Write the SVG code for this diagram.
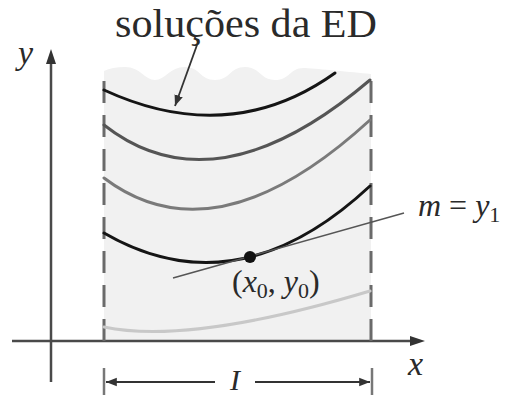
<svg xmlns="http://www.w3.org/2000/svg" width="514" height="398" viewBox="0 0 514 398">
<style>
text{font-family:"Liberation Serif","Times New Roman",serif;fill:#2a2a2a}
.it{font-style:italic}
.crv{fill:none;stroke-width:3;stroke-linecap:round}
.dash{stroke:#6a6a6a;stroke-width:3;stroke-dasharray:22 12;fill:none}
.ax{stroke:#4a4a4a;stroke-width:2.5;fill:none}
.thin{stroke:#333;stroke-width:1.8;fill:none}
</style>
<defs>
<marker id="ah" viewBox="0 0 10 10" refX="10" refY="5" markerWidth="6" markerHeight="6" markerUnits="strokeWidth" orient="auto">
<path d="M0,1 L10,5 L0,9 Z" fill="#333"/>
</marker>
</defs>
<rect width="514" height="398" fill="#fff"/>
<g id="region">
<path d="M104,71 Q112,67 125,67 C140,67 145,80 155,80 S170,67 185,67 S200,80 215,80 S230,67 245,67 S260,80 275,80 S290,67 305,68 S350,72 371,74 L371,341 L104,341 Z" fill="#f1f1f1"/>
</g>
<g id="axes">
<line class="ax" x1="12" y1="341" x2="412" y2="341"/>
<path d="M425,341 L410,336 L410,346 Z" fill="#333"/>
<line class="ax" x1="51" y1="382" x2="51" y2="62"/>
<path d="M51,49 L46,64 L56,64 Z" fill="#333"/>
</g>
<g id="bounds">
<line class="dash" x1="104" y1="341" x2="104" y2="73"/>
<line class="dash" x1="371" y1="341" x2="371" y2="73"/>
</g>
<g id="solutions">
<path class="crv" stroke="#151515" d="M104,90 Q230,148 335,73"/>
<path class="crv" stroke="#555" d="M104,125 Q215,212 370,80"/>
<path class="crv" stroke="#7a7a7a" d="M104,178 Q215,262 370,120"/>
<path class="crv" stroke="#151515" d="M104,233 Q237,310 370,186"/>
<path class="crv" stroke="#c8c8c8" d="M104,327 Q190,345 370,291"/>
</g>
<g id="connectors">
<line class="thin" x1="197" y1="45" x2="175" y2="106" marker-end="url(#ah)"/>
<line stroke="#555" stroke-width="1.5" x1="173" y1="278" x2="404" y2="213"/>
</g>
<g id="point">
<circle cx="250" cy="257" r="6" fill="#111"/>
</g>
<g id="interval">
<line stroke="#777" stroke-width="2.5" x1="104" y1="368" x2="104" y2="395"/>
<line stroke="#777" stroke-width="2.5" x1="372" y1="368" x2="372" y2="395"/>
<line class="thin" x1="215" y1="382" x2="106" y2="382" marker-end="url(#ah)"/>
<line class="thin" x1="255" y1="382" x2="370" y2="382" marker-end="url(#ah)"/>
</g>
<g id="labels">
<text x="115" y="37" font-size="40" textLength="262" lengthAdjust="spacingAndGlyphs">soluções da ED</text>
<text class="it" x="18" y="64" font-size="34">y</text>
<text class="it" x="408" y="375" font-size="34">x</text>
<text class="it" x="230" y="390" font-size="30">I</text>
<text x="418" y="216" font-size="32"><tspan class="it">m</tspan> = <tspan class="it">y</tspan><tspan font-size="22" dy="6">1</tspan></text>
<text x="232" y="292" font-size="32">(<tspan class="it">x</tspan><tspan font-size="22" dy="6">0</tspan><tspan dy="-6">, </tspan><tspan class="it">y</tspan><tspan font-size="22" dy="6">0</tspan><tspan dy="-6">)</tspan></text>
</g>
</svg>
